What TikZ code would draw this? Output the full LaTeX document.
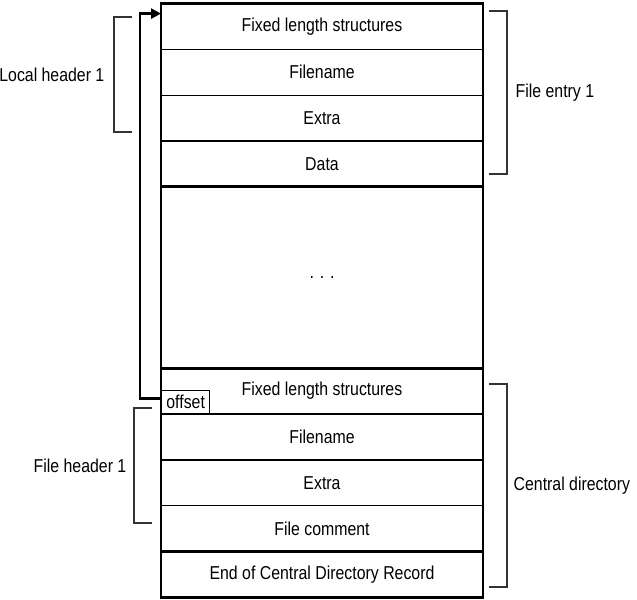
\documentclass[tikz,border=0pt]{standalone}
\usepackage{fontspec}
\setmainfont{Liberation Sans}[FakeStretch=0.85]
\usepackage{tikz}
\usetikzlibrary{arrows.meta,positioning,chains,calc}
\definecolor{ZipLine}{HTML}{000000}
\definecolor{BraceGray}{HTML}{333333}
\tikzset{
  zipcell/.style={draw=ZipLine, line width=1pt, outer sep=0pt, inner sep=0pt,
                  minimum width=241.5pt, minimum height=34.35pt, align=center,
                  font=\fontsize{14}{16}\selectfont},
  zipgap/.style={zipcell, minimum height=136.1pt},
  zipedge/.style={draw=ZipLine, line width=2.2pt},
  zipbrace/.style={draw=BraceGray, line width=1pt},
  ziplabel/.style={font=\fontsize{14}{16}\selectfont, inner sep=0pt},
  ziparr/.style={-{Triangle[length=7.5pt,width=7.5pt]}, line width=2.2pt, ZipLine}
}
\begin{document}
\begin{tikzpicture}[x=0.75pt, y=-0.75pt, start chain=going below, node distance=0pt]
\useasboundingbox (0,0) rectangle (637,600);
% file entry 1
\node[zipcell, on chain] (fixA) at (322,26.5) {Fixed length structures};
\node[zipcell, on chain] (nameA) {Filename};
\node[zipcell, on chain] (extraA) {Extra};
\node[zipcell, on chain] (data) {Data};
\node[zipgap, on chain] (gap) {. . .};
% central directory
\node[zipcell, on chain] (fixB) {Fixed length structures};
\node[zipcell, on chain] (nameB) {Filename};
\node[zipcell, on chain] (extraB) {Extra};
\node[zipcell, on chain] (comment) {File comment};
\node[zipcell, on chain] (eocd) {End of Central Directory Record};
% heavy outlines
\draw[zipedge] (fixA.north west) rectangle (data.south east);
\draw[zipedge] (gap.north west) rectangle (gap.south east);
\draw[zipedge] (fixB.north west) rectangle (comment.south east);
\draw[zipedge] (eocd.north west) rectangle (eocd.south east);
% offset pointer
\node[draw=ZipLine, line width=1pt, anchor=south west, inner sep=1pt,
      minimum width=36pt, minimum height=17pt, ziplabel] (offset) at (fixB.south west) {offset};
\coordinate (hit) at ($(fixA.north west)+(0,10)$);
\draw[ziparr] ($(offset.west)+(0,-4)$) -- ++(-21,0) |- (hit);
% brackets
\draw[zipbrace] (132,17) -- (114,17) -- node[ziplabel, left=9] {Local header 1} (114,132) -- (132,132);
\draw[zipbrace] (152,408) -- (134,408) -- node[ziplabel, left=7] {File header 1} (134,523) -- (152,523);
\draw[zipbrace] (489,11) -- (507,11) -- node[ziplabel, right=8] {File entry 1} (507,174) -- (489,174);
\draw[zipbrace] (489,384) -- (507,384) -- node[ziplabel, right=6] {Central directory} (507,587) -- (489,587);
\end{tikzpicture}
\end{document}
